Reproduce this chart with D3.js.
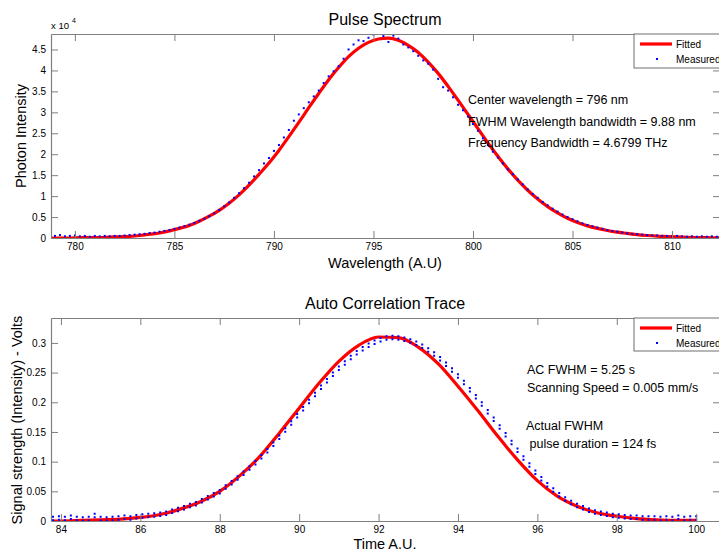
<!DOCTYPE html>
<html><head><meta charset="utf-8">
<script src="https://cdn.jsdelivr.net/npm/d3@7"></script>
<style>
body{margin:0;background:#fff;}
svg{display:block;font-family:"Liberation Sans",Arial,sans-serif;}
</style></head>
<body><svg id="c" width="719" height="552"></svg>
<script>
// ---------- Pulse Spectrum data ----------
const specXTicks = [780, 785, 790, 795, 800, 805, 810];
const specYTicks = [0, 0.5, 1, 1.5, 2, 2.5, 3, 3.5, 4, 4.5];
// fitted curve, wavelengths 778.75 .. 812.75 step 0.5 (x 10^4)
const specFitStart = 778.75, specFitStep = 0.5;
const specFit = [0,0,0,0.01,0.01,0.01,0.02,0.03,0.04,0.06,0.09,0.12,0.17,0.23,0.30,0.40,0.52,0.66,0.83,1.03,
  1.26,1.52,1.79,2.09,2.42,2.76,3.11,3.45,3.78,4.07,4.33,4.53,4.67,4.75,4.77,4.72,4.60,4.43,4.20,3.93,
  3.62,3.29,2.95,2.61,2.27,1.95,1.65,1.38,1.14,0.93,0.75,0.60,0.47,0.37,0.29,0.23,0.18,0.14,0.11,0.08,
  0.06,0.045,0.035,0.025,0.018,0.012,0.008,0.005,0.003];
// measured, wavelengths 778.75 .. 812.5 step 0.25 (x 10^4)
const specMeasStart = 778.75, specMeasStep = 0.25;
const specMeas = [0.06,
  0.05,0.07,0.04,0.05, 0.06,0.04,0.05,0.03, 0.05,0.04,0.05,0.04, 0.05,0.05,0.06,0.07,
  0.08,0.09,0.10,0.12, 0.13,0.15,0.17,0.19, 0.22,0.25,0.28,0.32, 0.36,0.41,0.46,0.52,
  0.59,0.67,0.76,0.85, 0.96,1.07,1.19,1.32, 1.47,1.62,1.78,1.91, 2.08,2.22,2.40,2.58,
  2.80,2.95,3.10,3.24, 3.38,3.52,3.70,3.86, 3.98,4.10,4.28,4.50, 4.62,4.72,4.70,4.78,
  4.86,4.88,4.82,4.68, 4.83,4.76,4.62,4.55, 4.46,4.35,4.24,4.16, 4.02,3.80,3.60,3.52,
  3.36,3.18,3.05,2.90, 2.72,2.56,2.38,2.22, 2.06,1.92,1.78,1.64, 1.52,1.40,1.28,1.16,
  1.05,0.96,0.86,0.78, 0.70,0.63,0.56,0.50, 0.45,0.40,0.35,0.31, 0.28,0.25,0.22,0.19,
  0.17,0.15,0.13,0.11, 0.10,0.09,0.08,0.07, 0.06,0.06,0.05,0.05, 0.04,0.05,0.04,0.03,
  0.04,0.03,0.04,0.03, 0.04,0.03,0.04];
const specNotes = ["Center wavelength = 796 nm", "FWHM Wavelength bandwidth = 9.88 nm", "Frequency Bandwidth = 4.6799 THz"];

// ---------- Auto Correlation data ----------
const acXTicks = [84, 86, 88, 90, 92, 94, 96, 98, 100];
const acYTicks = [0, 0.05, 0.1, 0.15, 0.2, 0.25, 0.3];
const acFitStart = 83.5, acFitStep = 0.5;
const acFit = [0,0,0.001,0.002,0.003,0.006,0.011,0.020,0.032,0.050,0.076,0.108,0.148,0.190,0.232,0.269,0.296,0.310,
  0.309,0.293,0.265,0.227,0.186,0.143,0.103,0.068,0.042,0.025,0.014,0.008,0.004,0.002,0.001,0.001];
const acMeasStart = 83.8, acMeasStep = 0.15;
const acMeas = [0.003,0.004,0.003,0.005,0.003,0.002,0.003,0.008,0.003,0.002,0.003,0.004,0.005,0.004,0.006,
  0.007,0.008,0.009,0.010,0.012,0.015,0.018,0.021,0.025,0.028,0.033,0.038,0.043,0.048,
  0.056,0.063,0.071,0.079,0.088,0.097,0.107,0.117,0.128,0.140,0.152,0.164,0.176,0.188,
  0.200,0.212,0.224,0.235,0.246,0.256,0.265,0.274,0.282,0.289,0.295,0.300,0.304,0.307,
  0.308,0.307,0.305,0.302,0.298,0.293,0.287,0.280,0.272,0.263,0.253,0.243,0.232,0.220,
  0.208,0.196,0.183,0.170,0.157,0.144,0.131,0.118,0.105,0.093,0.081,0.070,0.060,0.051,
  0.043,0.036,0.030,0.025,0.021,0.017,0.014,0.012,0.010,0.008,0.007,0.006,0.005,0.005,
  0.004,0.004,0.004,0.003,0.004,0.003,0.005,0.003,0.004,0.004];
const acNotes1 = ["AC FWHM = 5.25 s", "Scanning Speed = 0.005 mm/s"];
const acNotes2 = ["Actual FWHM", " pulse duration = 124 fs"];
const legendLabels = ["Fitted", "Measured"];

// ---------- drawing ----------
const svg = d3.select("#c");
const AX = "#7f7f7f";
const toPts = (start, step, vals) => vals.map((v, i) => [start + i * step, v]);

function panel(cfg) {
  const {x, y, xTicks, yTicks, yFmt, id} = cfg;
  const [L, R] = x.range(); const [B, T] = y.range();
  const g = svg.append("g");
  svg.append("clipPath").attr("id", id).append("rect")
    .attr("x", L).attr("y", T).attr("width", R - L).attr("height", B - T);
  const tl = 7;
  const gb = g.append("g").attr("transform", `translate(0,${B})`)
    .call(d3.axisBottom(x).tickValues(xTicks).tickSizeInner(-tl).tickSizeOuter(0).tickPadding(5).tickFormat(d3.format("d")));
  const gt = g.append("g").attr("transform", `translate(0,${T})`)
    .call(d3.axisTop(x).tickValues(xTicks).tickSizeInner(-tl).tickSizeOuter(0).tickFormat(""));
  const gl = g.append("g").attr("transform", `translate(${L},0)`)
    .call(d3.axisLeft(y).tickValues(yTicks).tickSizeInner(-tl).tickSizeOuter(0).tickPadding(5).tickFormat(yFmt));
  const gr = g.append("g").attr("transform", `translate(${R},0)`)
    .call(d3.axisRight(y).tickValues(yTicks).tickSizeInner(-tl).tickSizeOuter(0).tickFormat(""));
  [gb, gt, gl, gr].forEach(a => {
    a.selectAll("path").attr("stroke", AX).attr("stroke-width", 1.2);
    a.selectAll("line").attr("stroke", AX);
    a.selectAll("text").attr("fill", "#000").style("font-size", "10px").style("font-family", "Liberation Sans, Arial, sans-serif");
  });
  gb.selectAll("text").attr("dy", "0.71em");
  const plot = g.append("g").attr("clip-path", `url(#${id})`);
  return {g, plot, gb, gt, gl, gr, L, R, T, B};
}

function drawData(p, x, y, fit, meas, markerBar) {
  const line = d3.line().x(d => x(d[0])).y(d => y(d[1])).curve(d3.curveMonotoneX);
  p.plot.append("path").datum(fit).attr("d", line)
    .attr("fill", "none").attr("stroke", "#ff0000").attr("stroke-width", 3.2).attr("stroke-linejoin", "round");
  if (markerBar) {
    p.plot.selectAll("line.m").data(meas).join("line").attr("class", "m")
      .attr("x1", d => x(d[0])).attr("x2", d => x(d[0]))
      .attr("y1", d => y(d[1]) - 3.5).attr("y2", d => y(d[1]) + 3.5)
      .attr("stroke", "#0000ff").attr("stroke-width", 2).attr("stroke-dasharray", "2,1.5");
  } else {
    p.plot.selectAll("rect.m").data(meas).join("rect").attr("class", "m")
      .attr("x", d => x(d[0]) - 1).attr("y", d => y(d[1]) - 1)
      .attr("width", 2).attr("height", 2).attr("fill", "#0000ff");
  }
  [p.gb, p.gt, p.gl, p.gr].forEach(a => a.raise());
}

function legend(x0, y0, h) {
  const lg = svg.append("g");
  lg.append("rect").attr("x", x0).attr("y", y0).attr("width", 120).attr("height", h)
    .attr("fill", "#fff").attr("stroke", "#6e6e6e").attr("stroke-width", 1);
  lg.append("line").attr("x1", x0 + 6).attr("x2", x0 + 38).attr("y1", y0 + 10).attr("y2", y0 + 10)
    .attr("stroke", "#ff0000").attr("stroke-width", 3.2);
  lg.append("rect").attr("x", x0 + 22).attr("y", y0 + 24).attr("width", 2).attr("height", 2).attr("fill", "#0000ff");
  lg.selectAll("text").data(legendLabels).join("text")
    .attr("x", x0 + 42).attr("y", (d, i) => y0 + 14 + i * 15)
    .style("font-size", "10px").text(d => d);
}

const fmtY1 = d => d === 0 ? "0" : String(d);

const x1 = d3.scaleLinear().domain([778.8, 812.41]).range([51, 720]);
const y1 = d3.scaleLinear().domain([0, 4.87]).range([238, 34]);
const p1 = panel({x: x1, y: y1, xTicks: specXTicks, yTicks: specYTicks, yFmt: fmtY1, id: "clip1"});
drawData(p1, x1, y1, toPts(specFitStart, specFitStep, specFit), toPts(specMeasStart, specMeasStep, specMeas), false);

const x2 = d3.scaleLinear().domain([83.75, 100.6]).range([51, 720]);
const y2 = d3.scaleLinear().domain([0, 0.342]).range([521, 318]);
const p2 = panel({x: x2, y: y2, xTicks: acXTicks, yTicks: acYTicks, yFmt: fmtY1, id: "clip2"});
drawData(p2, x2, y2, toPts(acFitStart, acFitStep, acFit), toPts(acMeasStart, acMeasStep, acMeas), true);

legend(634, 34, 34);
legend(634, 318, 33);

const T = (x, y, s, size, anchor, rot) => {
  const t = svg.append("text").attr("x", x).attr("y", y).style("font-size", size + "px")
    .attr("text-anchor", anchor || "start").attr("fill", "#000").text(s);
  if (rot) t.attr("transform", `rotate(-90,${x},${y})`);
  return t;
};
T(385, 25, "Pulse Spectrum", 16, "middle");
T(385, 309, "Auto Correlation Trace", 16, "middle");
T(385, 268, "Wavelength (A.U)", 14.5, "middle");
T(385, 549, "Time A.U.", 14.5, "middle");
T(26, 136, "Photon Intensity", 14.5, "middle", true);
T(22, 420, "Signal strength (Intensity) - Volts", 14.5, "middle", true);
T(51, 29, "x 10", 9.5, "start");
T(72, 23, "4", 7, "start");

specNotes.forEach((s, i) => T(468, 104 + i * 21.5, s, 12.5));
acNotes1.forEach((s, i) => T(527, 374 + i * 18, s, 12.5));
acNotes2.forEach((s, i) => T(526, 430 + i * 17.5, s, 12.5).attr("xml:space", "preserve").style("white-space", "pre"));
</script></body></html>
